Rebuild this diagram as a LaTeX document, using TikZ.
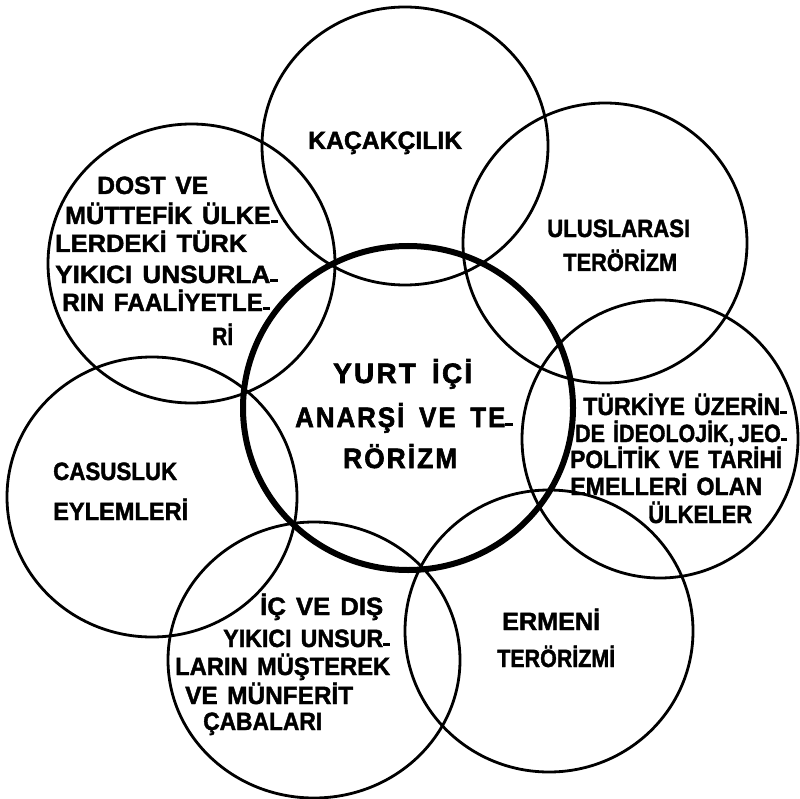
\documentclass[tikz,border=0pt]{standalone}
\usepackage{fontspec}
\setmainfont{Liberation Sans}[WordSpace=1.4,BoldFeatures={FakeBold=1.6}]
\newfontfamily\ctrfont{Liberation Sans}[LetterSpace=8,WordSpace=1.6,BoldFeatures={FakeBold=2.2}]
\newcommand\tx[2]{\resizebox{#1pt}{\height}{#2}}
\newcommand\dsh{\rule[0.8pt]{0.3em}{0.12em}}
\begin{document}
\begin{tikzpicture}[x=1pt,y=-1pt,
  ring/.style={line width=2.8pt},
  mainring/.style={line width=6pt},
  lbl/.style={anchor=base west,inner sep=0pt,font=\fontsize{25}{25}\selectfont\bfseries},
  ctr/.style={anchor=base west,inner sep=0pt,font=\ctrfont\fontsize{28}{28}\selectfont\bfseries}]
\useasboundingbox (0,0) rectangle (799,799);
\fill[white] (0,0) rectangle (799,799);
% circles
\draw[ring] (405,146) ellipse [x radius=143pt, y radius=139pt];
\draw[ring] (191.5,263.5) ellipse [x radius=143.5pt, y radius=139.5pt];
\draw[ring] (605,243) ellipse [x radius=142pt, y radius=140pt];
\draw[ring] (660,439) ellipse [x radius=138pt, y radius=139pt];
\draw[ring] (549,631) ellipse [x radius=144pt, y radius=141pt];
\draw[ring] (314,660) ellipse [x radius=146pt, y radius=138pt];
\draw[ring] (152,497) ellipse [x radius=145pt, y radius=140pt];
\draw[mainring] (408,408) ellipse [x radius=165pt, y radius=162pt];
% KAÇAKÇILIK
\node[lbl] (kac) at (308,149) {\tx{154}{KAÇAKÇILIK}};
% ULUSLARASI TERÖRİZM
\node[lbl] (ulus1) at (547,237) {\tx{143}{ULUSLARASI}};
\node[lbl] (ulus2) at (563,271) {\tx{114}{TERÖRİZM}};
% DOST VE ...
\node[lbl] (dost1) at (97,194) {\tx{111}{DOST VE}};
\node[lbl] (dost2) at (65,224) {\tx{213}{MÜTTEFİK ÜLKE\dsh}};
\node[lbl] (dost3) at (55,252) {\tx{192}{LERDEKİ TÜRK}};
\node[lbl] (dost4) at (55,283) {\tx{223}{YIKICI UNSURLA\dsh}};
\node[lbl] (dost5) at (62,311) {\tx{208}{RIN FAALİYETLE\dsh}};
\node[lbl] (dost6) at (212,345) {\tx{21}{Rİ}};
% centre
\node[ctr] (yurt1) at (333,383) {\tx{139}{YURT İÇİ}};
\node[ctr] (yurt2) at (295,427) {\tx{218}{ANARŞİ VE TE\dsh}};
\node[ctr] (yurt3) at (343,468) {\tx{114}{RÖRİZM}};
% CASUSLUK
\node[lbl] (cas1) at (53,480) {\tx{124}{CASUSLUK}};
\node[lbl] (cas2) at (53,520) {\tx{135}{EYLEMLERİ}};
% İÇ VE DIŞ
\node[lbl] (ic1) at (260,615) {\tx{123}{İÇ VE DIŞ}};
\node[lbl] (ic2) at (223,647) {\tx{167}{YIKICI UNSUR\dsh}};
\node[lbl] (ic3) at (175,675) {\tx{215}{LARIN MÜŞTEREK}};
\node[lbl] (ic4) at (185,704) {\tx{168}{VE MÜNFERİT}};
\node[lbl] (ic5) at (203,730) {\tx{119}{ÇABALARI}};
% TÜRKİYE
\node[lbl] (tr1) at (583,415) {\tx{204}{TÜRKİYE ÜZERİN\dsh}};
\node[lbl] (tr2) at (575,442) {\tx{212}{DE İDEOLOJİK,\,JEO\dsh}};
\node[lbl] (tr3) at (570,468) {\tx{212}{POLİTİK VE TARİHİ}};
\node[lbl] (tr4) at (570,495) {\tx{192}{EMELLERİ OLAN}};
\node[lbl] (tr5) at (648,523) {\tx{104}{ÜLKELER}};
% ERMENİ
\node[lbl] (erm1) at (502,630) {\tx{98}{ERMENİ}};
\node[lbl] (erm2) at (497,667) {\tx{118}{TERÖRİZMİ}};
\end{tikzpicture}
\end{document}
